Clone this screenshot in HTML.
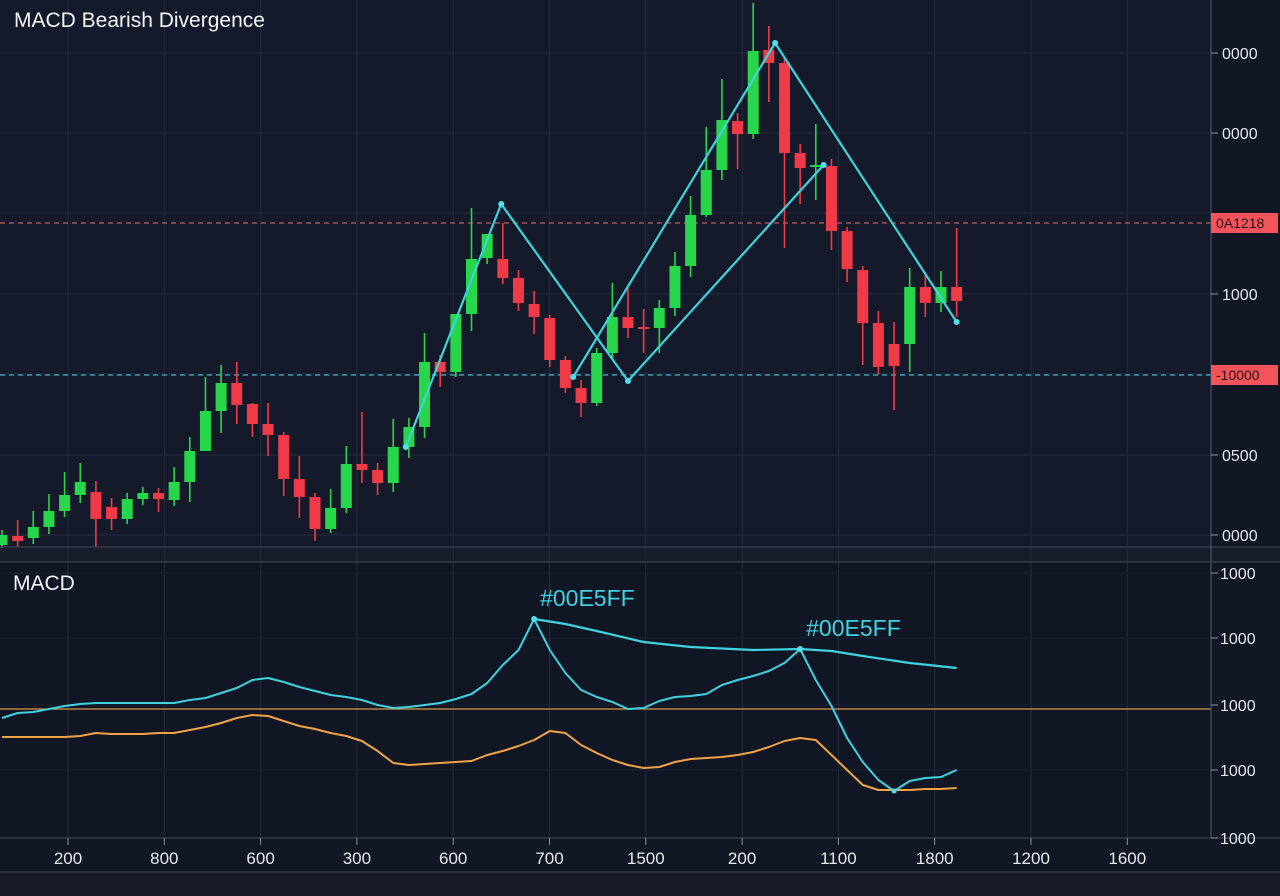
<!DOCTYPE html>
<html><head><meta charset="utf-8"><title>MACD Bearish Divergence</title>
<style>
html,body{margin:0;padding:0;background:#121725;}
svg{display:block;font-family:"Liberation Sans",sans-serif;}
</style></head>
<body>
<svg id="chart" width="1280" height="896" viewBox="0 0 1280 896" xmlns="http://www.w3.org/2000/svg">
<rect x="0" y="0" width="1280" height="896" fill="#121725"/>
<rect x="0" y="0" width="1211" height="547" fill="#141a2a"/>
<rect x="0" y="548" width="1280" height="14" fill="#181d2b"/>
<rect x="0" y="562" width="1211" height="276" fill="#111625"/>
<rect x="0" y="872" width="1280" height="24" fill="#151a26"/>
<g id="grid"></g>
<g id="price"></g>
<g id="macd"></g>
<g id="axes"></g>
<text x="14" y="27" fill="#f2f4f8" font-size="21">MACD Bearish Divergence</text>
<text x="13" y="590" fill="#f2f4f8" font-size="21">MACD</text>
</svg>
<script>
const opens  = [3,12,10,21,37,53,56,41,29,49,55,48,66,97,137,165,144,124,113,69,51,19,40,84,78,65,101,121,186,176,234,290,289,270,244,230,188,160,145,195,231,221,220,240,282,333,378,427,414,498,485,395,381,382,317,278,225,204,204,261,245,261];
const closes = [13,7,21,37,53,66,29,29,49,55,49,66,97,137,165,143,124,113,69,51,19,40,84,78,65,101,121,186,176,234,289,314,270,245,231,188,160,145,195,231,220,219,240,282,333,378,428,414,497,485,395,380,383,317,279,225,181,182,261,245,261,247];
const highs  = [18,28,37,54,76,85,67,50,55,61,60,81,111,171,183,186,145,145,116,92,55,59,102,136,85,129,130,215,193,234,340,314,325,278,257,233,192,168,200,265,261,239,248,296,352,421,469,435,545,522,490,404,424,389,321,282,237,226,280,276,277,320];
const lows   = [0,1,4,14,31,45,1,18,24,43,36,42,46,97,115,124,111,92,52,30,7,15,35,65,53,56,90,110,161,171,217,284,264,237,214,181,155,131,142,189,210,195,195,232,271,331,368,379,409,446,300,344,348,298,266,183,173,138,176,231,236,231];
const macdValues   = [-9,-4,-3,0,3,5,6,6,6,6,6,6,9,11,16,21,29,31,27,22,18,14,12,9,4,1,2,4,6,10,15,26,44,59,90,59,36,19,12,7,0,1,8,12,13,15,24,29,33,38,46,60,29,3,-29,-53,-71,-82,-72,-69,-68,-61];
const signalValues = [-28,-28,-28,-28,-28,-27,-24,-25,-25,-25,-24,-24,-21,-18,-14,-9,-6,-7,-12,-17,-20,-24,-27,-32,-42,-54,-56,-55,-54,-53,-52,-46,-42,-37,-31,-22,-24,-36,-44,-51,-56,-59,-58,-53,-50,-49,-48,-46,-43,-38,-32,-29,-31,-46,-61,-76,-81,-81,-81,-80,-80,-79];
const divIdx  = [34,36,38,41,44,48,51,53,55,58,61];
const divVals = [90,85,78,67,62,59,60,58,53,46,41];
const zigAIdx = [25.8,31.9,40,52.5];
const zigAVal = [101,344,167,383];
const zigBIdx = [36.5,49.4,61];
const zigBVal = [171,505,226];
const resistanceLevel = 325;
const supportLevel = 173;
const priceTickVals = [495,415,254,93,13];
const priceTickLabels = ["0000","0000","1000","0500","0000"];
const macdTickVals = [136,71,4,-61,-129];
const macdTickLabels = ["1000","1000","1000","1000","1000"];
const xTickLabels = ["200","800","600","300","600","700","1500","200","1100","1800","1200","1600"];
const peakLabels = ["#00E5FF","#00E5FF"];
const peakIdx = [34,51];

const NS="http://www.w3.org/2000/svg";
const X0=2, STEP=15.65, PLOT_R=1211;
const xOf = i => X0 + STEP*i;
const yPrice = v => 548 - v;
const yMacd = v => 709 - v;
const xTickPos = k => 68 + 96.3*k;
function el(tag, attrs, parent){const e=document.createElementNS(NS,tag);for(const k in attrs)e.setAttribute(k,attrs[k]);parent.appendChild(e);return e;}
const grid=document.getElementById('grid'), price=document.getElementById('price'), macd=document.getElementById('macd'), axes=document.getElementById('axes');

xTickLabels.forEach((t,k)=>{
  const g=el('line',{x1:xTickPos(k),x2:xTickPos(k),y1:0,y2:838,stroke:'#252c3d','stroke-width':1},grid);
  
  
});
[495,415,335,254,174,93,13].forEach(v=>{
  const g=el('line',{x1:0,x2:PLOT_R,y1:yPrice(v),y2:yPrice(v),stroke:'#252c3d','stroke-width':1},grid);
  
  
});
macdTickVals.forEach(v=>{
  const g=el('line',{x1:0,x2:PLOT_R,y1:yMacd(v),y2:yMacd(v),stroke:'#1c2233','stroke-width':1},grid);
  
  
});

let rl=el('line',{x1:0,x2:PLOT_R,y1:yPrice(resistanceLevel),y2:yPrice(resistanceLevel),stroke:'#c45a62','stroke-width':1.2,'stroke-dasharray':'5 4'},price);


let sl=el('line',{x1:0,x2:PLOT_R,y1:yPrice(supportLevel),y2:yPrice(supportLevel),stroke:'#3ab8c4','stroke-width':1.2,'stroke-dasharray':'5 4'},price);



opens.forEach((o,i)=>{
  const c=closes[i], up=c>o, col=up?'#27d64a':'#f03a48';
  const x=xOf(i);
  const g=el('g',{},price);
  
  
  el('line',{x1:x,x2:x,y1:yPrice(highs[i]),y2:yPrice(lows[i]),stroke:col,'stroke-width':1.6},g);
  const top=Math.min(yPrice(o),yPrice(c)), h=Math.max(2,Math.abs(o-c));
  el('rect',{x:x-5.5,y:top,width:11,height:h,fill:col},g);
});

function poly(idx,vals,yf,parent,name,col,w){
  const pts=idx.map((ix,k)=>xOf(ix).toFixed(1)+','+yf(vals[k]).toFixed(1)).join(' ');
  const p=el('polyline',{points:pts,fill:'none',stroke:col,'stroke-width':w,'stroke-linejoin':'round'},parent);
  
  
  return p;
}
poly(zigAIdx,zigAVal,yPrice,price,'zigzag-line-a','#3fd3df',2.2);
poly(zigBIdx,zigBVal,yPrice,price,'zigzag-line-b','#3fd3df',2.2);
[[zigAIdx,zigAVal],[zigBIdx,zigBVal]].forEach(([ix,vv])=>{
  ix.forEach((v,k)=>{
    const d=el('circle',{cx:xOf(v),cy:yPrice(vv[k]),r:3,fill:'#4fe0ea'},price);
    
    
  });
});

let zl=el('line',{x1:0,x2:PLOT_R,y1:yMacd(0),y2:yMacd(0),stroke:'#d89a48','stroke-width':1.2},macd);


const allIdx=macdValues.map((_,i)=>i);
poly(allIdx,signalValues,yMacd,macd,'signal-line','#f0a445',2);
poly(allIdx,macdValues,yMacd,macd,'macd-line','#3fd3df',2);
poly(divIdx,divVals,yMacd,macd,'divergence-line','#3fd3df',2.2);
peakIdx.forEach((pi,k)=>{
  const d=el('circle',{cx:xOf(pi),cy:yMacd(macdValues[pi]),r:3,fill:'#4fe0ea'},macd);
  
  
  const t=el('text',{x:xOf(pi)+6,y:yMacd(macdValues[pi])-13,fill:'#3fd3df','font-size':23},macd);
  t.textContent=peakLabels[k];
  
  
});
const minI=macdValues.indexOf(Math.min(...macdValues));
let md=el('circle',{cx:xOf(minI),cy:yMacd(macdValues[minI]),r:2.5,fill:'#4fe0ea'},macd);



[547,562,838,872].forEach(y=>{
  const l=el('line',{x1:0,x2:1280,y1:y,y2:y,stroke:'#3a4152','stroke-width':1.2},axes);
  
  
});
let ra=el('line',{x1:PLOT_R,x2:PLOT_R,y1:0,y2:838,stroke:'#4a5162','stroke-width':1.2},axes);


priceTickVals.forEach((v,k)=>{
  const y=yPrice(v);
  el('line',{x1:PLOT_R,x2:PLOT_R+7,y1:y,y2:y,stroke:'#8a909c'},axes);
  const t=el('text',{x:1222,y:y+6,fill:'#e6e8ee','font-size':16},axes);
  t.textContent=priceTickLabels[k];
  
  
});
macdTickVals.forEach((v,k)=>{
  const y=yMacd(v);
  el('line',{x1:PLOT_R,x2:PLOT_R+7,y1:y,y2:y,stroke:'#8a909c'},axes);
  const t=el('text',{x:1220,y:y+6,fill:'#e6e8ee','font-size':16},axes);
  t.textContent=macdTickLabels[k];
  
  
});
xTickLabels.forEach((s,k)=>{
  const x=xTickPos(k);
  el('line',{x1:x,x2:x,y1:838,y2:845,stroke:'#8a909c'},axes);
  const t=el('text',{x:x,y:864,fill:'#e6e8ee','font-size':17,'text-anchor':'middle'},axes);
  t.textContent=s;
  
  
});
[[resistanceLevel,'0A1218','#f2545a'],[supportLevel,'-10000','#f2545a']].forEach(([v,s,c])=>{
  const y=yPrice(v);
  const g=el('g',{},axes);
  
  
  el('rect',{x:1211,y:y-10,width:67,height:20,fill:c},g);
  const t=el('text',{x:1216,y:y+5,fill:'#2a1418','font-size':14},g);
  t.textContent=s;
});
</script>
</body></html>
